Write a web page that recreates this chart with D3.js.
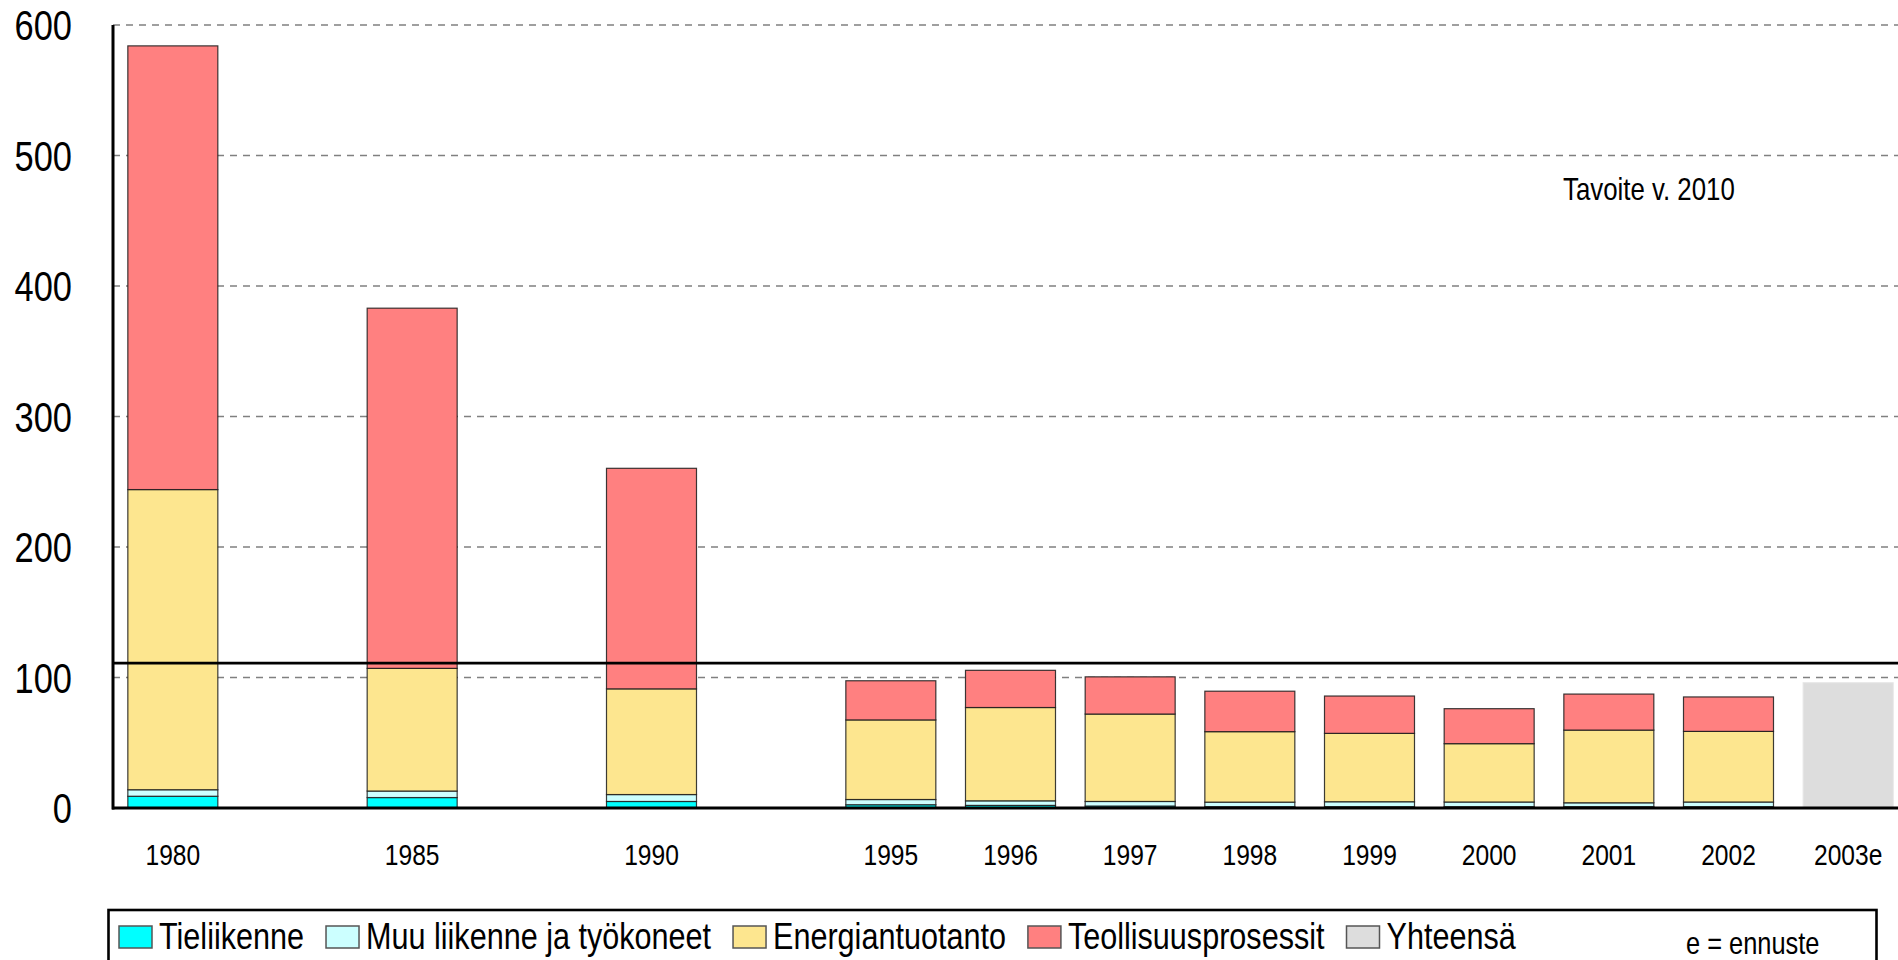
<!DOCTYPE html>
<html>
<head>
<meta charset="utf-8">
<script src="https://cdn.jsdelivr.net/npm/d3@7"></script>
<style>
  body { margin: 0; background: #fff; }
  svg { display: block; }
  text { font-family: "Liberation Sans", Arial, sans-serif; fill: #000; }
</style>
</head>
<body>
<div class="chart"></div>
<script>
// years on the x axis (2003e = estimate)
const years = ["1980", "1985", "1990", "1995", "1996", "1997", "1998", "1999", "2000", "2001", "2002", "2003e"];

// emissions per source
const tieliikenne = [9, 8, 5, 2.5, 2, 1.5, 1, 1, 1, 1, 1, 0];
const muuLiikenne = [5, 5, 5.3, 4, 3.5, 3.5, 3.5, 3.8, 3.6, 3, 3.6, 0];
const energia = [230, 94, 81, 61, 71.5, 67, 54, 52.4, 44.7, 55.7, 54.1, 0];
const teollisuus = [340, 276, 169, 30, 28.5, 28.5, 31, 28.6, 26.8, 27.6, 26.4, 0];
const yhteensa = [0, 0, 0, 0, 0, 0, 0, 0, 0, 0, 0, 96];

const seriesNames = ["Tieliikenne", "Muu liikenne ja työkoneet", "Energiantuotanto", "Teollisuusprosessit", "Yhteensä"];
const seriesColors = ["#00ffff", "#ccffff", "#fde68f", "#ff8080", "#dddddd"];

const yTicks = [0, 100, 200, 300, 400, 500, 600];
const target = 111; // Tavoite v. 2010
const targetLabel = "Tavoite v. 2010";
const noteLabel = "e = ennuste";

const width = 1898;
const height = 960;
// the original uses a narrow font, so squeeze the text sideways
const narrow = 0.82;

// build rows for the stack
const rows = years.map((y, i) => ({
  year: y,
  Tieliikenne: tieliikenne[i],
  "Muu liikenne ja työkoneet": muuLiikenne[i],
  Energiantuotanto: energia[i],
  Teollisuusprosessit: teollisuus[i],
  "Yhteensä": yhteensa[i]
}));

// the first three years are five years apart, so leave an empty slot after each
let slots = [];
years.forEach((y, i) => {
  slots.push(y);
  if (i < 3) slots.push("_gap" + i);
});

const svg = d3.select(".chart").append("svg")
  .attr("width", width)
  .attr("height", height);

// put a squeezed text at x, y
function place(sel, x, y) {
  return sel.attr("transform", (d, i) => {
    const px = typeof x == "function" ? x(d, i) : x;
    const py = typeof y == "function" ? y(d, i) : y;
    return "translate(" + px + "," + py + ") scale(" + narrow + ",1)";
  });
}

const x = d3.scaleBand()
  .domain(slots)
  .range([113, 1908])
  .paddingInner(0.248)
  .paddingOuter(0.124);

const y = d3.scaleLinear()
  .domain([0, 600])
  .range([808, 25]);

// dashed gridlines
svg.append("g")
  .selectAll("line")
  .data(yTicks.filter(d => d > 0))
  .enter()
  .append("line")
  .attr("x1", 113)
  .attr("x2", width)
  .attr("y1", d => y(d))
  .attr("y2", d => y(d))
  .attr("stroke", "#808080")
  .attr("stroke-width", 1.6)
  .attr("stroke-dasharray", "7,6");

// stacked bars
const stack = d3.stack().keys(seriesNames)(rows);

svg.append("g")
  .selectAll("g")
  .data(stack)
  .enter()
  .append("g")
  .attr("fill", (d, i) => seriesColors[i])
  .selectAll("rect")
  .data(d => d.filter(p => p[1] - p[0] > 0).map(p => Object.assign(p, { key: d.key })))
  .enter()
  .append("rect")
  .attr("x", d => x(d.data.year))
  .attr("width", x.bandwidth())
  .attr("y", d => y(d[1]))
  .attr("height", d => y(d[0]) - y(d[1]))
  .attr("stroke", d => d.key == "Yhteensä" ? "#e4e4e4" : "#1a1a1a")
  .attr("stroke-opacity", 0.85)
  .attr("stroke-width", 1.2);

// target line
svg.append("line")
  .attr("x1", 113)
  .attr("x2", width)
  .attr("y1", y(target))
  .attr("y2", y(target))
  .attr("stroke", "#000")
  .attr("stroke-width", 2.8);

place(svg.append("text"), 1563, 200)
  .attr("font-size", 31.5)
  .text(targetLabel);

// axes lines
svg.append("line")
  .attr("x1", 113).attr("x2", 113)
  .attr("y1", y(600)).attr("y2", y(0) + 1.5)
  .attr("stroke", "#000").attr("stroke-width", 3);

svg.append("line")
  .attr("x1", 112).attr("x2", width)
  .attr("y1", y(0)).attr("y2", y(0))
  .attr("stroke", "#000").attr("stroke-width", 3);

// y tick labels
place(svg.append("g")
  .selectAll("text")
  .data(yTicks)
  .enter()
  .append("text"), 72, d => y(d))
  .attr("dy", "0.36em")
  .attr("text-anchor", "end")
  .attr("font-size", 42)
  .text(d => d);

// x tick labels
place(svg.append("g")
  .selectAll("text")
  .data(years)
  .enter()
  .append("text"), d => x(d) + x.bandwidth() / 2, 865)
  .attr("text-anchor", "middle")
  .attr("font-size", 30)
  .text(d => d);

// legend box
svg.append("rect")
  .attr("x", 108.5)
  .attr("y", 910)
  .attr("width", 1768)
  .attr("height", 90)
  .attr("fill", "none")
  .attr("stroke", "#000")
  .attr("stroke-width", 2.6);

let lx = 119;
seriesNames.forEach((name, i) => {
  svg.append("rect")
    .attr("x", lx)
    .attr("y", 926)
    .attr("width", 33)
    .attr("height", 22)
    .attr("fill", seriesColors[i])
    .attr("stroke", "#555")
    .attr("stroke-width", 1.5);
  const t = place(svg.append("text"), lx + 40, 949)
    .attr("font-size", 37.3)
    .text(name);
  lx = lx + 40 + t.node().getComputedTextLength() * narrow + 22;
});

place(svg.append("text"), 1686, 954)
  .attr("font-size", 31)
  .text(noteLabel);
</script>
</body>
</html>
